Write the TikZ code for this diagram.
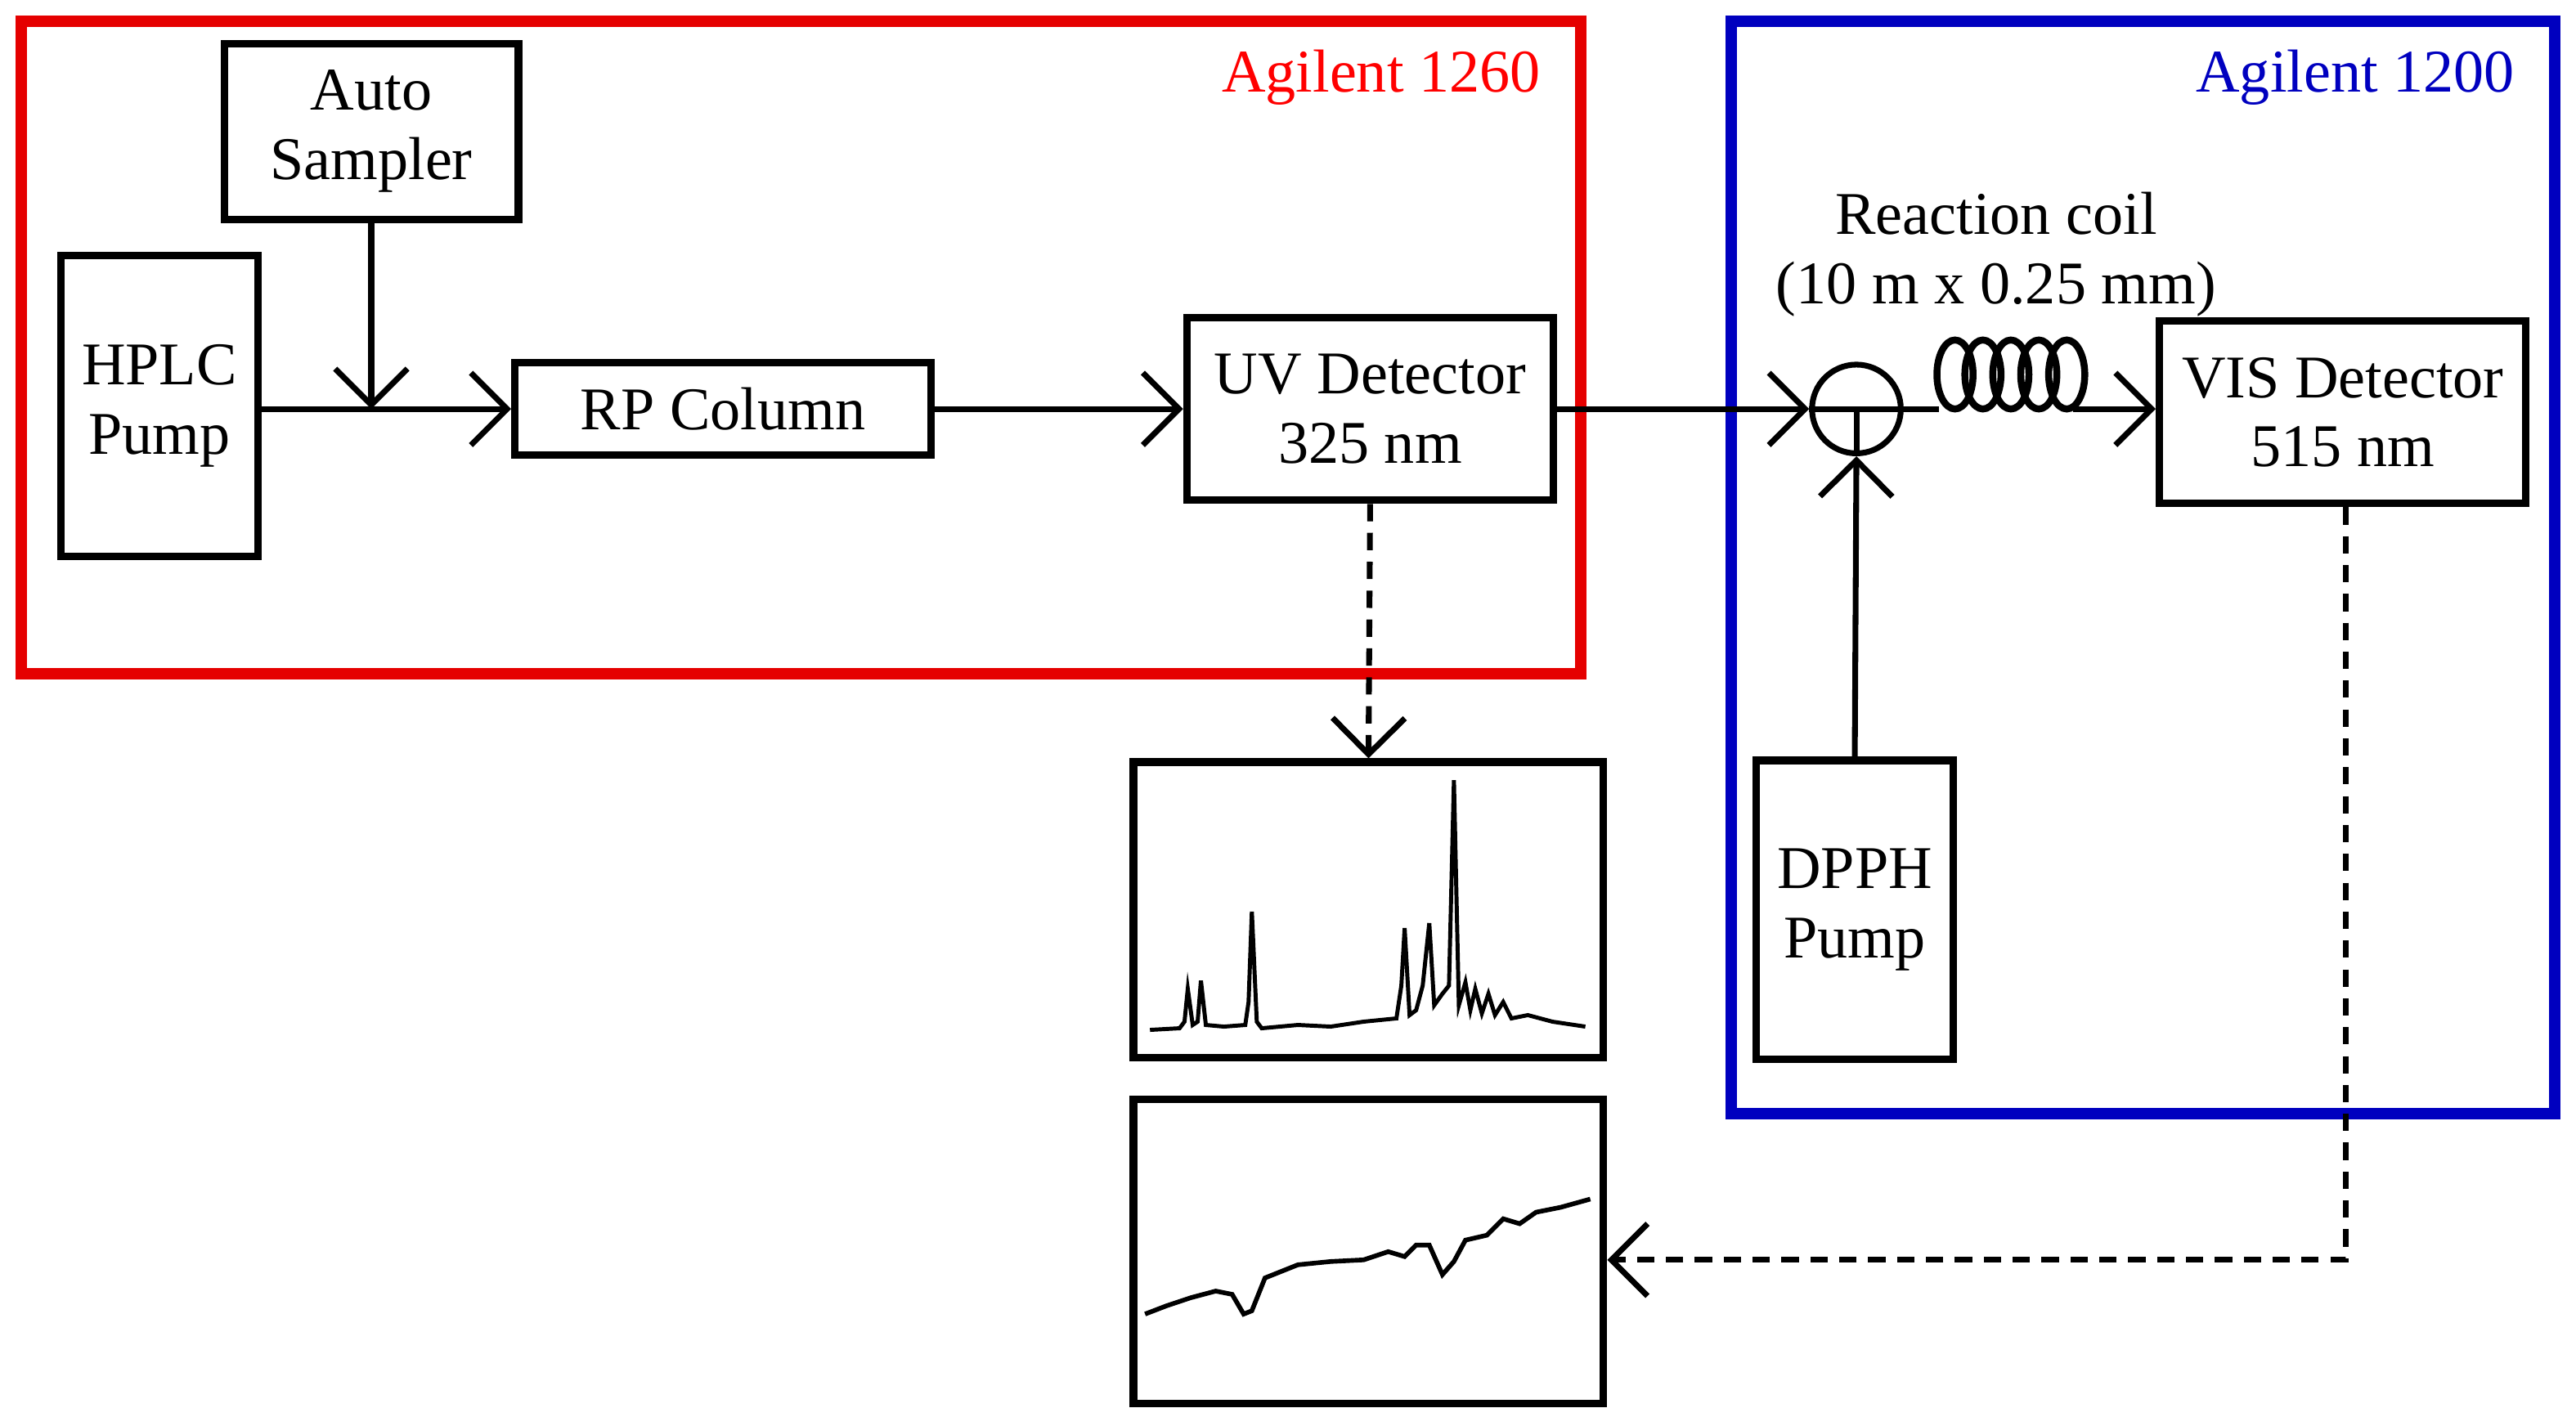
\documentclass[tikz,border=0pt]{standalone}
\usepackage{fontspec}
\setmainfont{Liberation Serif}
\usetikzlibrary{arrows.meta}
\begin{document}
\begin{tikzpicture}[x=0.01cm,y=-0.01cm,
  box/.style={draw,line width=1.3pt,inner sep=0pt,align=center,font=\fontsize{10.5}{12}\selectfont},
  ar/.style={line width=1pt,-{Straight Barb[length=2.2mm,width=4.4mm,line width=1pt]}},
  da/.style={ar,dashed,dash pattern=on 3pt off 2pt},
  lbl/.style={font=\fontsize{10.5}{12}\selectfont}]
\useasboundingbox (0,0) rectangle (1568,868);
\draw[red!90!black,line width=2pt] (13,13) rectangle (962,410);
\draw[blue!75!black,line width=2pt] (1054,13) rectangle (1555,678);
\node[lbl,text=red,anchor=east] (l1) at (950,47) {Agilent 1260};
\node[lbl,text=blue!75!black,anchor=east] (l2) at (1543,47) {Agilent 1200};
\node[box,minimum width=1.79cm,minimum height=1.07cm] (as) at (226,80) {Auto\\Sampler};
\node[box,minimum width=1.2cm,minimum height=1.83cm] (hp) at (97,247) {HPLC\\Pump};
\node[box,minimum width=2.53cm,minimum height=0.56cm] (rp) at (440,249) {RP Column};
\node[box,minimum width=2.23cm,minimum height=1.11cm] (uv) at (834,249) {UV Detector\\325 nm};
\node[box,minimum width=2.23cm,minimum height=1.11cm] (vis) at (1426,251) {VIS Detector\\515 nm};
\node[box,minimum width=1.2cm,minimum height=1.82cm] (dp) at (1129,554) {DPPH\\Pump};
\node[box,minimum width=2.86cm,minimum height=1.8cm] (c1) at (833,554) {};
\node[box,minimum width=2.86cm,minimum height=1.85cm] (c2) at (833,762) {};
\node[lbl,align=center] (rc) at (1215,155) {Reaction coil\\(10 m x 0.25 mm)};
\node[draw,circle,line width=1pt,minimum size=0.54cm,inner sep=0pt] (mx) at (1130,249) {};
\coordinate (j) at (226,249);
\coordinate (cs) at (1180,249);
\coordinate (ce) at (1262,249);
\draw[line width=1pt] (hp.east|-j) -- (j);
\draw[ar] (j) -- (rp.west);
\draw[ar] (as.south) -- (j);
\draw[ar] (rp.east) -- (uv.west|-rp.east);
\draw[ar] (uv.east|-j) -- (mx.west);
\draw[line width=1pt] (mx.west) -- (mx.east) (mx.center) -- (mx.south);
\draw[ar] (dp.north) -- (mx.south);
\draw[line width=1pt] (mx.east) -- (cs);
\foreach \k in {0,...,4} \draw[line width=1.2pt] (1190+17*\k,228) ellipse (11 and 21);
\draw[ar] (ce) -- (vis.west|-ce);
\draw[da] (uv.south) -- (c1.north);
\coordinate (vc) at (1428,767);
\draw[da] (vis.south-|vc) -- (vc) -- (c2.east|-vc);
\draw[line width=0.7pt] plot coordinates {(700,627)(718,626)(721,622)(723,602)(726,624)(729,622)(731,597)(734,624)(745,625)(758,624)(760,610)(762,555)(765,622)(768,626)(790,624)(810,625)(830,622)(850,620)(853,600)(855,565)(858,618)(862,615)(866,600)(870,562)(873,612)(878,605)(882,600)(885,475)(888,612)(892,598)(895,615)(898,602)(902,617)(906,605)(910,618)(915,610)(920,620)(930,618)(945,622)(965,625)};
\draw[line width=0.8pt] plot coordinates {(697,800)(710,795)(725,790)(740,786)(750,788)(757,800)(762,798)(770,778)(790,770)(810,768)(830,767)(845,762)(855,765)(862,758)(870,758)(878,776)(885,768)(892,755)(905,752)(915,742)(925,745)(935,738)(950,735)(968,730)};
\end{tikzpicture}
\end{document}
